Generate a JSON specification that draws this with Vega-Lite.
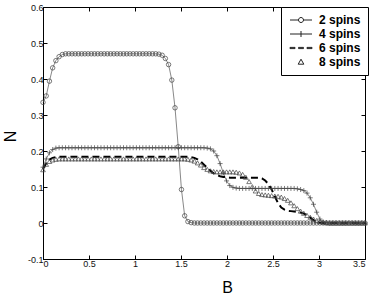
{
"$schema":"https://vega.github.io/schema/vega-lite/v6.json",
"width":322,"height":252,"autosize":"none",
"padding":{"left":43,"top":7,"right":9,"bottom":36},
"background":"white",
"data":{"values":[
{"x":0,"s2":0.335,"s4":0.155,"s6":0.15,"s8":0.148},
{"x":0.035,"s2":0.353,"s4":0.178,"s6":0.166,"s8":0.163},
{"x":0.07,"s2":0.394,"s4":0.195,"s6":0.176,"s8":0.171},
{"x":0.105,"s2":0.431,"s4":0.204,"s6":0.181,"s8":0.175},
{"x":0.14,"s2":0.451,"s4":0.208,"s6":0.183,"s8":0.177},
{"x":0.175,"s2":0.462,"s4":0.209,"s6":0.184,"s8":0.178},
{"x":0.21,"s2":0.468,"s4":0.209,"s6":0.184,"s8":0.178},
{"x":0.245,"s2":0.47,"s4":0.209,"s6":0.184,"s8":0.178},
{"x":0.28,"s2":0.47,"s4":0.209,"s6":0.184,"s8":0.178},
{"x":0.315,"s2":0.47,"s4":0.209,"s6":0.184,"s8":0.178},
{"x":0.35,"s2":0.47,"s4":0.209,"s6":0.184,"s8":0.178},
{"x":0.385,"s2":0.47,"s4":0.209,"s6":0.184,"s8":0.178},
{"x":0.42,"s2":0.47,"s4":0.209,"s6":0.184,"s8":0.178},
{"x":0.455,"s2":0.47,"s4":0.209,"s6":0.184,"s8":0.178},
{"x":0.49,"s2":0.47,"s4":0.209,"s6":0.184,"s8":0.178},
{"x":0.525,"s2":0.47,"s4":0.209,"s6":0.184,"s8":0.178},
{"x":0.56,"s2":0.47,"s4":0.209,"s6":0.184,"s8":0.178},
{"x":0.595,"s2":0.47,"s4":0.209,"s6":0.184,"s8":0.178},
{"x":0.63,"s2":0.47,"s4":0.209,"s6":0.184,"s8":0.178},
{"x":0.665,"s2":0.47,"s4":0.209,"s6":0.184,"s8":0.178},
{"x":0.7,"s2":0.47,"s4":0.209,"s6":0.184,"s8":0.178},
{"x":0.735,"s2":0.47,"s4":0.209,"s6":0.184,"s8":0.178},
{"x":0.77,"s2":0.47,"s4":0.209,"s6":0.184,"s8":0.178},
{"x":0.805,"s2":0.47,"s4":0.209,"s6":0.184,"s8":0.178},
{"x":0.84,"s2":0.47,"s4":0.209,"s6":0.184,"s8":0.178},
{"x":0.875,"s2":0.47,"s4":0.209,"s6":0.184,"s8":0.178},
{"x":0.91,"s2":0.47,"s4":0.209,"s6":0.184,"s8":0.178},
{"x":0.945,"s2":0.47,"s4":0.209,"s6":0.184,"s8":0.178},
{"x":0.98,"s2":0.47,"s4":0.209,"s6":0.184,"s8":0.178},
{"x":1.015,"s2":0.47,"s4":0.209,"s6":0.184,"s8":0.178},
{"x":1.05,"s2":0.47,"s4":0.209,"s6":0.184,"s8":0.178},
{"x":1.085,"s2":0.47,"s4":0.209,"s6":0.184,"s8":0.178},
{"x":1.12,"s2":0.47,"s4":0.209,"s6":0.184,"s8":0.178},
{"x":1.155,"s2":0.47,"s4":0.209,"s6":0.184,"s8":0.178},
{"x":1.19,"s2":0.47,"s4":0.209,"s6":0.184,"s8":0.178},
{"x":1.225,"s2":0.47,"s4":0.209,"s6":0.184,"s8":0.178},
{"x":1.26,"s2":0.469,"s4":0.209,"s6":0.184,"s8":0.178},
{"x":1.295,"s2":0.466,"s4":0.209,"s6":0.184,"s8":0.178},
{"x":1.33,"s2":0.457,"s4":0.209,"s6":0.184,"s8":0.178},
{"x":1.365,"s2":0.44,"s4":0.209,"s6":0.184,"s8":0.178},
{"x":1.4,"s2":0.397,"s4":0.209,"s6":0.184,"s8":0.178},
{"x":1.435,"s2":0.32,"s4":0.209,"s6":0.184,"s8":0.178},
{"x":1.47,"s2":0.212,"s4":0.209,"s6":0.184,"s8":0.178},
{"x":1.505,"s2":0.093,"s4":0.209,"s6":0.184,"s8":0.178},
{"x":1.54,"s2":0.02,"s4":0.209,"s6":0.184,"s8":0.178},
{"x":1.575,"s2":0.004,"s4":0.209,"s6":0.184,"s8":0.177},
{"x":1.61,"s2":0.001,"s4":0.209,"s6":0.183,"s8":0.175},
{"x":1.645,"s2":0,"s4":0.209,"s6":0.181,"s8":0.172},
{"x":1.68,"s2":0,"s4":0.209,"s6":0.177,"s8":0.167},
{"x":1.715,"s2":0,"s4":0.209,"s6":0.171,"s8":0.161},
{"x":1.75,"s2":0,"s4":0.209,"s6":0.162,"s8":0.154},
{"x":1.785,"s2":0,"s4":0.208,"s6":0.153,"s8":0.149},
{"x":1.82,"s2":0,"s4":0.206,"s6":0.145,"s8":0.145},
{"x":1.855,"s2":0,"s4":0.2,"s6":0.138,"s8":0.143},
{"x":1.89,"s2":0,"s4":0.187,"s6":0.133,"s8":0.142},
{"x":1.925,"s2":0,"s4":0.165,"s6":0.13,"s8":0.142},
{"x":1.96,"s2":0,"s4":0.139,"s6":0.128,"s8":0.142},
{"x":1.995,"s2":0,"s4":0.117,"s6":0.127,"s8":0.142},
{"x":2.03,"s2":0,"s4":0.104,"s6":0.126,"s8":0.142},
{"x":2.065,"s2":0,"s4":0.099,"s6":0.126,"s8":0.142},
{"x":2.1,"s2":0,"s4":0.097,"s6":0.126,"s8":0.141},
{"x":2.135,"s2":0,"s4":0.096,"s6":0.126,"s8":0.139},
{"x":2.17,"s2":0,"s4":0.096,"s6":0.126,"s8":0.135},
{"x":2.205,"s2":0,"s4":0.096,"s6":0.126,"s8":0.127},
{"x":2.24,"s2":0,"s4":0.096,"s6":0.126,"s8":0.115},
{"x":2.275,"s2":0,"s4":0.096,"s6":0.126,"s8":0.101},
{"x":2.31,"s2":0,"s4":0.096,"s6":0.126,"s8":0.089},
{"x":2.345,"s2":0,"s4":0.096,"s6":0.126,"s8":0.082},
{"x":2.38,"s2":0,"s4":0.096,"s6":0.124,"s8":0.079},
{"x":2.415,"s2":0,"s4":0.096,"s6":0.118,"s8":0.078},
{"x":2.45,"s2":0,"s4":0.096,"s6":0.108,"s8":0.077},
{"x":2.485,"s2":0,"s4":0.096,"s6":0.093,"s8":0.076},
{"x":2.52,"s2":0,"s4":0.096,"s6":0.074,"s8":0.075},
{"x":2.555,"s2":0,"s4":0.096,"s6":0.055,"s8":0.074},
{"x":2.59,"s2":0,"s4":0.096,"s6":0.043,"s8":0.072},
{"x":2.625,"s2":0,"s4":0.096,"s6":0.037,"s8":0.068},
{"x":2.66,"s2":0,"s4":0.096,"s6":0.034,"s8":0.063},
{"x":2.695,"s2":0,"s4":0.096,"s6":0.033,"s8":0.056},
{"x":2.73,"s2":0,"s4":0.096,"s6":0.032,"s8":0.048},
{"x":2.765,"s2":0,"s4":0.095,"s6":0.031,"s8":0.04},
{"x":2.8,"s2":0,"s4":0.093,"s6":0.029,"s8":0.033},
{"x":2.835,"s2":0,"s4":0.09,"s6":0.026,"s8":0.027},
{"x":2.87,"s2":0,"s4":0.083,"s6":0.022,"s8":0.021},
{"x":2.905,"s2":0,"s4":0.07,"s6":0.015,"s8":0.016},
{"x":2.94,"s2":0,"s4":0.052,"s6":0.008,"s8":0.011},
{"x":2.975,"s2":0,"s4":0.03,"s6":0.003,"s8":0.007},
{"x":3.01,"s2":0,"s4":0.011,"s6":0.001,"s8":0.004},
{"x":3.045,"s2":0,"s4":0.003,"s6":0,"s8":0.002},
{"x":3.08,"s2":0,"s4":0.001,"s6":0,"s8":0.001},
{"x":3.115,"s2":0,"s4":0,"s6":0,"s8":0},
{"x":3.15,"s2":0,"s4":0,"s6":0,"s8":0},
{"x":3.185,"s2":0,"s4":0,"s6":0,"s8":0},
{"x":3.22,"s2":0,"s4":0,"s6":0,"s8":0},
{"x":3.255,"s2":0,"s4":0,"s6":0,"s8":0},
{"x":3.29,"s2":0,"s4":0,"s6":0,"s8":0},
{"x":3.325,"s2":0,"s4":0,"s6":0,"s8":0},
{"x":3.36,"s2":0,"s4":0,"s6":0,"s8":0},
{"x":3.395,"s2":0,"s4":0,"s6":0,"s8":0},
{"x":3.43,"s2":0,"s4":0,"s6":0,"s8":0},
{"x":3.465,"s2":0,"s4":0,"s6":0,"s8":0},
{"x":3.5,"s2":0,"s4":0,"s6":0,"s8":0}
]},
"config":{
"view":{"stroke":"black","strokeWidth":1},
"axis":{"domainColor":"black","domainWidth":1,"tickColor":"black","tickSize":-4,"tickWidth":1,"labelFont":"Liberation Sans","labelFontSize":9,"labelColor":"#111","labelPadding":4,"grid":false,"titleFont":"Liberation Sans","titleFontWeight":"normal","titleFontSize":16,"titleColor":"black"}
},
"encoding":{
"x":{"field":"x","type":"quantitative","scale":{"domain":[0,3.5],"nice":false,"zero":false},"axis":null}
},
"layer":[
{"mark":{"type":"line","stroke":"#555","strokeWidth":0.7},
 "encoding":{
  "x":{"field":"x","type":"quantitative","axis":{"orient":"bottom","values":[0,0.5,1,1.5,2,2.5,3,3.5],"labelExpr":"''+datum.value","title":"B","titleX":184,"titleY":33,"titleBaseline":"alphabetic","titleAlign":"center"}},
  "y":{"field":"s2","type":"quantitative","scale":{"domain":[-0.1,0.6],"nice":false,"zero":false},"axis":{"orient":"left","values":[-0.1,0,0.1,0.2,0.3,0.4,0.5,0.6],"labelExpr":"''+datum.value","title":"N","titleAngle":-90,"titleX":-33,"titleY":129,"titleBaseline":"middle","titleAlign":"center"}}
 }},
{"mark":{"type":"line","stroke":"#555","strokeWidth":0.7},
 "encoding":{
  "x":{"field":"x","type":"quantitative","axis":{"orient":"top","values":[0,0.5,1,1.5,2,2.5,3,3.5],"labels":false,"title":null}},
  "y":{"field":"s4","type":"quantitative","axis":{"orient":"right","values":[-0.1,0,0.1,0.2,0.3,0.4,0.5,0.6],"labels":false,"title":null}}
 }},
{"mark":{"type":"line","stroke":"black","strokeWidth":2,"strokeDash":[7,4]},
 "encoding":{"y":{"field":"s6","type":"quantitative","axis":null}}},
{"mark":{"type":"point","shape":"circle","size":20,"filled":false,"stroke":"#444","strokeWidth":0.7,"opacity":1},
 "encoding":{"y":{"field":"s2","type":"quantitative","axis":null}}},
{"mark":{"type":"point","shape":"M-1,0H1M0,-1V1","size":25,"filled":false,"stroke":"#444","strokeWidth":0.7,"opacity":1},
 "encoding":{"y":{"field":"s4","type":"quantitative","axis":null}}},
{"mark":{"type":"point","shape":"triangle-up","size":22,"filled":false,"stroke":"#444","strokeWidth":0.7,"opacity":1},
 "encoding":{"y":{"field":"s8","type":"quantitative","axis":null}}},
{"transform":[{"fold":["s2","s4","s6","s8"],"as":["key","val"]}],
 "mark":{"type":"point","opacity":0,"filled":false},
 "encoding":{
  "y":{"field":"val","type":"quantitative","axis":null},
  "shape":{"field":"key","type":"nominal",
   "scale":{"domain":["s2","s4","s6","s8"],"range":[
     "M-1,0H1.125M2.375,0H4.5M2.375,0A0.625,0.625 0 1,1 1.125,0A0.625,0.625 0 1,1 2.375,0",
     "M-1,0H4.5M1.75,-0.75V0.75",
     "M-1,-0.15H0.25V0.15H-1ZM1.125,-0.15H2.375V0.15H1.125ZM3.25,-0.15H4.5V0.15H3.25Z",
     "M1.75,-0.7L2.45,0.55L1.05,0.55Z"]},
   "legend":{"title":null,"orient":"none","legendX":238,"legendY":0,"padding":7,"strokeColor":"black","fillColor":"white","cornerRadius":0,
     "symbolSize":64,"symbolStrokeWidth":1,"symbolStrokeColor":"#222","symbolFillColor":"transparent","symbolOpacity":1,
     "labelFont":"Liberation Sans","labelFontSize":12,"labelFontWeight":"bold","labelColor":"black","labelOffset":19,"rowPadding":2,
     "labelExpr":"slice(datum.label,1)+' spins'"}}
 }}
]
}
